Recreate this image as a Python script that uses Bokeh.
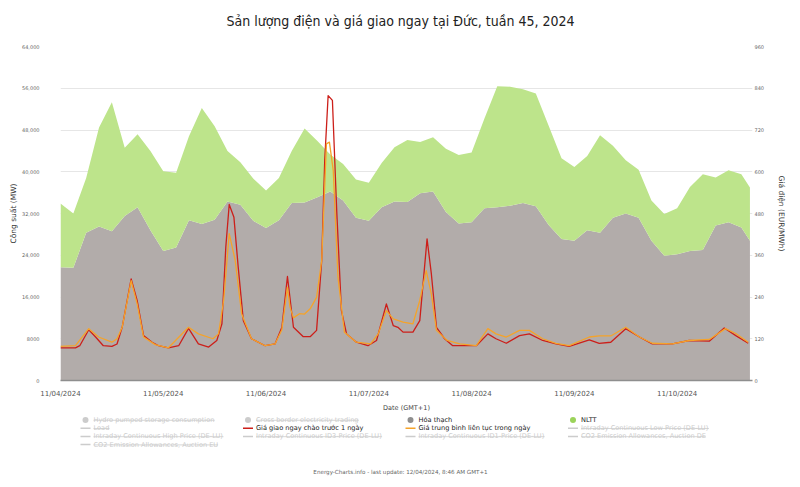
from bokeh.plotting import figure
from bokeh.models import ColumnDataSource, Range1d, LinearAxis, FixedTicker
from bokeh.layouts import column
from bokeh.embed import file_html
from bokeh.resources import INLINE
from bokeh.core.properties import value

# ---------------- data (hours since 11/04/2024 00:00, GMT+1) ----------------
area_hours = [0, 3, 6, 9, 12, 15, 18, 21, 24, 27, 30, 33, 36, 39, 42, 45, 48, 51,
              54, 57, 60, 63, 66, 69, 72, 75, 78, 81, 84, 87, 90, 93, 96, 99, 102,
              105, 108, 111, 114, 117, 120, 123, 126, 129, 132, 135, 138, 141, 144,
              147, 150, 153, 156, 159, 161]
fossil_mw = [21700, 21600, 28300, 29500, 28600, 31500, 33200, 28800, 24800, 25500,
             30700, 30000, 30800, 34300, 33700, 30600, 29200, 30700, 34000, 34100,
             35100, 36200, 34500, 31200, 30600, 33200, 34300, 34200, 35900, 36200,
             32300, 30100, 30300, 33000, 33200, 33500, 34000, 33400, 29800, 27100,
             26800, 28800, 28300, 31200, 32000, 31200, 26800, 23900, 24200, 24800,
             25000, 29700, 30300, 29300, 26800]
nltt_mw = [12200, 10400, 10500, 19000, 24700, 13100, 14000, 15200, 15300, 14300,
           16100, 22200, 17900, 9700, 8100, 8100, 7200, 8100, 10000, 14200,
           10800, 7100, 7000, 7300, 7300, 8500, 10400, 11900, 9800, 10400,
           12100, 13100, 13400, 17200, 23200, 22800, 21800, 21600, 19000, 15500,
           14100, 14200, 18700, 13800, 10200, 9200, 7700, 8000, 8800, 12300,
           14500, 9200, 10000, 10200, 10200]

dayahead_hours = [0, 3.5, 4.5, 6.6, 8.2, 10, 12, 13.2, 14.4, 16.5, 17.9, 19.4, 21.4,
                  22.9, 25.2, 27.6, 29.9, 32.2, 34.6, 36.5, 37.7, 38.6, 39.4, 40.5,
                  41.5, 42.7, 44.6, 47.8, 50.1, 51.7, 53, 54.4, 56.7, 58.3, 59.8, 61,
                  61.7, 62.5, 63.5, 64.5, 65.6, 66.8, 69.1, 71.8, 73.8, 76.1, 77.7,
                  78.8, 80, 82.3, 83.9, 85.6, 86.6, 87.8, 89.7, 91.6, 94.8, 97.1,
                  99.8, 101.7, 104.1, 107.2, 109.5, 112.6, 115.7, 118.8, 123.5,
                  125.8, 128.5, 132, 135.2, 138.2, 142.9, 146.8, 151.5, 155, 157.7,
                  160.6]
dayahead_price = [94, 94, 100, 146, 125, 100, 98, 105, 153, 292, 230, 129, 110,
                  100, 94, 100, 150, 105, 96, 115, 163, 383, 506, 469,
                  326, 172, 120, 100, 105, 153, 299, 153, 126, 126, 144, 345,
                  632, 819, 805, 489, 201, 134, 110, 100, 115, 220, 158,
                  153, 139, 139, 172, 407, 307, 153, 120, 100, 100, 100,
                  134, 120, 107, 129, 134, 115, 105, 98, 117,
                  107, 110, 149, 125, 105, 105, 115, 113, 151, 129,
                  107]

intraday_hours = [0, 3.5, 6.6, 8.9, 12, 13.2, 14.4, 16.5, 17.9, 19.4, 22.1, 25.2,
                  29.9, 32.2, 35.6, 36.9, 38.1, 39.4, 40.8, 42.3, 44.6, 47.8, 50.1,
                  51.7, 53, 53.6, 54.4, 55.8, 57, 58.3, 59.8, 61, 62.1, 62.8, 63.7,
                  64.8, 66.3, 69.1, 72.4, 74.2, 76.1, 77.7, 80, 82.3, 83.9, 85.4,
                  86.6, 87.8, 90.3, 93.2, 97.1, 99.8, 101.7, 104.1, 107.2, 109.5,
                  112.6, 115.7, 118.8, 123.5, 125.8, 128.5, 132, 135.2, 138.2,
                  142.9, 146.8, 151.5, 155.3, 157.7, 160.6]
intraday_price = [98, 100, 149, 125, 110, 120, 153, 287, 220, 125, 103, 94,
                  153, 134, 120, 134, 230, 422, 345, 192, 120, 100, 105,
                  146, 268, 211, 180, 192, 191, 206, 239, 345, 680, 685, 603,
                  297, 139, 110, 105, 134, 201, 177, 168, 163, 230, 316,
                  249, 144, 115, 105, 100, 149, 134, 125, 144, 144,
                  120, 107, 100, 125, 128, 128, 153, 125, 107,
                  105, 115, 118, 149, 135, 110]

day_ticks = [0, 24, 48, 72, 96, 120, 144]
day_labels = ["11/04/2024", "11/05/2024", "11/06/2024", "11/07/2024",
              "11/08/2024", "11/09/2024", "11/10/2024"]
mw_ticks = [0, 8000, 16000, 24000, 32000, 40000, 48000, 56000, 64000]
mw_labels = ["0", "8000", "16,000", "24,000", "32,000", "40,000", "48,000",
             "56,000", "64,000"]
price_ticks = [0, 120, 240, 360, 480, 600, 720, 840, 960]

title_text = "Sản lượng điện và giá giao ngay tại Đức, tuần 45, 2024"
footer_text = "Energy-Charts.info - last update: 12/04/2024, 8:46 AM GMT+1"

legend_names = ["Hydro pumped storage consumption", "Cross border electricity trading",
                "Hóa thạch", "NLTT",
                "Load", "Giá giao ngay chào trước 1 ngày",
                "Giá trung bình liên tục trong ngày", "Intraday Continuous Low Price (DE-LU)",
                "Intraday Continuous High Price (DE-LU)", "Intraday Continuous ID3-Price (DE-LU)",
                "Intraday Continuous ID1-Price (DE-LU)", "CO2 Emission Allowances, Auction DE",
                "CO2 Emission Allowances, Auction EU"]
legend_kind = ["dot", "dot", "dot", "dot", "line", "line", "line", "line",
               "line", "line", "line", "line", "line"]
legend_active = [False, False, True, True, False, True, True, False,
                 False, False, False, False, False]

# ---------------- styles ----------------
FOSSIL = "#b2acaa"
GREEN = "#bde48b"
RED = "#cc1f1a"
ORANGE = "#f5a32a"
INACTIVE = "#cccccc"
legend_colors = {"Hóa thạch": "#8f8f8f", "NLTT": "#9bd35a",
                 "Giá giao ngay chào trước 1 ngày": RED,
                 "Giá trung bình liên tục trong ngày": ORANGE}
FONT = "DejaVu Sans"
FIG_W = 800
BL, BR = 60, 48          # left / right borders shared by all panels
TITLE_H, MAIN_H, LEG_H = 36, 380, 71


def text_panel(h):
    f = figure(width=FIG_W, height=h, x_range=Range1d(BL, FIG_W - BR),
               y_range=Range1d(h, 0), output_backend="svg", toolbar_location=None,
               min_border_left=BL, min_border_right=BR, min_border_top=0,
               min_border_bottom=0, x_axis_location=None, y_axis_location=None)
    f.outline_line_color = None
    f.xgrid.visible = False
    f.ygrid.visible = False
    f.background_fill_color = "white"
    f.border_fill_color = "white"
    return f


# ---------------- title panel ----------------
tf = text_panel(TITLE_H)
tf.text(x=[400], y=[20], text=[title_text], text_color="#222222",
        text_font=value("DejaVu Sans Condensed"), text_font_size=value("14px"),
        text_baseline="middle", text_align="center")

# ---------------- main chart ----------------
p = figure(width=FIG_W, height=MAIN_H, x_range=Range1d(0, 161.6), y_range=Range1d(0, 64000),
           output_backend="svg", toolbar_location=None,
           min_border_left=BL, min_border_right=BR, min_border_top=46 - TITLE_H,
           min_border_bottom=TITLE_H + MAIN_H - 380)
p.extra_y_ranges = {"price": Range1d(0, 960)}
p.outline_line_color = None
p.background_fill_color = "white"
p.border_fill_color = "white"

area_src = ColumnDataSource(dict(h=area_hours, fossil=fossil_mw, nltt=nltt_mw))
p.varea_stack(["fossil", "nltt"], x="h", color=[FOSSIL, GREEN], source=area_src)

red_src = ColumnDataSource(dict(h=dayahead_hours, v=dayahead_price))
org_src = ColumnDataSource(dict(h=intraday_hours, v=intraday_price))
p.line("h", "v", source=red_src, y_range_name="price", color=RED, line_width=1.3,
       line_join="round")
p.line("h", "v", source=org_src, y_range_name="price", color=ORANGE, line_width=1.3,
       line_join="round")

# x axis
xa = p.xaxis[0]
xa.ticker = FixedTicker(ticks=day_ticks)
xa.major_label_overrides = {t: l for t, l in zip(day_ticks, day_labels)}
xa.axis_label = "Date (GMT+1)"
xa.axis_label_text_font = FONT
xa.axis_label_text_font_size = "6.5px"
xa.axis_label_text_font_style = "normal"
xa.axis_label_text_color = "#444444"
xa.axis_label_standoff = 3
xa.major_label_text_font = FONT
xa.major_label_text_font_size = "7px"
xa.major_label_text_color = "#555555"
xa.major_label_standoff = 3
xa.major_tick_line_color = None
xa.minor_tick_line_color = None
xa.axis_line_color = "#8e8e8e"
xa.axis_line_width = 1.5

# left axis
ya = p.yaxis[0]
ya.ticker = FixedTicker(ticks=mw_ticks)
ya.major_label_overrides = {t: l for t, l in zip(mw_ticks, mw_labels)}
ya.axis_label = "Công suất (MW)"
ya.axis_label_text_font = FONT
ya.axis_label_text_font_size = "7.5px"
ya.axis_label_text_font_style = "normal"
ya.axis_label_text_color = "#333333"
ya.axis_label_standoff = 1
ya.major_label_text_font = FONT
ya.major_label_text_font_size = "5px"
ya.major_label_text_color = "#666666"
ya.major_label_standoff = 15
ya.axis_line_color = None
ya.major_tick_line_color = None
ya.minor_tick_line_color = None

# right axis
ra = LinearAxis(y_range_name="price", ticker=FixedTicker(ticks=price_ticks),
                axis_label="Giá điện (EUR/MWh)")
ra.axis_label_text_font = FONT
ra.axis_label_text_font_size = "7.5px"
ra.axis_label_text_font_style = "normal"
ra.axis_label_text_color = "#333333"
ra.axis_label_standoff = 10
ra.major_label_text_font = FONT
ra.major_label_text_font_size = "5px"
ra.major_label_text_color = "#666666"
ra.major_label_standoff = -4
ra.axis_line_color = None
ra.major_tick_line_color = None
ra.minor_tick_line_color = None
p.add_layout(ra, "right")

p.xgrid.grid_line_color = None
p.ygrid.grid_line_color = "#e6e6e6"
p.ygrid.grid_line_width = 1

# ---------------- legend + footer panel (x = page pixel, y = pixel from panel top) ----------------
lg = text_panel(LEG_H)

# approximate DejaVu Sans advance widths (em) to size the strike-through lines
W = {'a': .613, 'b': .635, 'c': .550, 'd': .635, 'e': .615, 'f': .352, 'g': .635,
     'h': .634, 'i': .278, 'j': .278, 'k': .579, 'l': .278, 'm': .974, 'n': .634,
     'o': .612, 'p': .635, 'q': .635, 'r': .411, 's': .521, 't': .392, 'u': .634,
     'v': .592, 'w': .818, 'x': .592, 'y': .592, 'z': .525, ' ': .318, '-': .361,
     '(': .390, ')': .390, ',': .318, 'A': .684, 'C': .698, 'D': .770, 'E': .632,
     'H': .752, 'I': .295, 'L': .557, 'U': .732, 'O': .787, 'P': .603}
LFS = 6.6
col_x0, col_dx = 85, 162.5
row_y0, row_dy = 3.5, 8.2

dot_x, dot_y, dot_c = [], [], []
ln_x0, ln_x1, ln_y, ln_c = [], [], [], []
tx, ty, tt, tc = [], [], [], []
st_x0, st_x1, st_y = [], [], []
for i, (name, kind, act) in enumerate(zip(legend_names, legend_kind, legend_active)):
    cx = col_x0 + col_dx * (i % 4)
    cy = row_y0 + row_dy * (i // 4)
    c = legend_colors.get(name, INACTIVE) if act else INACTIVE
    if kind == "dot":
        dot_x.append(cx); dot_y.append(cy); dot_c.append(c)
    else:
        ln_x0.append(cx - 5); ln_x1.append(cx + 5); ln_y.append(cy); ln_c.append(c)
    tx.append(cx + 8); ty.append(cy); tt.append(name)
    tc.append("#222222" if act else INACTIVE)
    if not act:
        w = sum(W.get(ch, 0.6) for ch in name) * LFS
        st_x0.append(cx + 8); st_x1.append(cx + 8 + w); st_y.append(cy + 0.3)

lg.scatter(x=dot_x, y=dot_y, size=6, color=dot_c, line_color=None)
lg.segment(x0=ln_x0, y0=ln_y, x1=ln_x1, y1=ln_y, color=ln_c, line_width=1.5)
lg.text(x=tx, y=ty, text=tt, text_color=tc, text_font=value(FONT),
        text_font_size=value(f"{LFS}px"), text_baseline="middle", text_align="left")
lg.segment(x0=st_x0, y0=st_y, x1=st_x1, y1=st_y, color=INACTIVE, line_width=0.8)

lg.text(x=[400], y=[55], text=[footer_text], text_color="#666666",
        text_font=value(FONT), text_font_size=value("5.6px"),
        text_baseline="middle", text_align="center")

layout = column(tf, p, lg, spacing=0)
open("out.html", "w").write(file_html(layout, INLINE))
